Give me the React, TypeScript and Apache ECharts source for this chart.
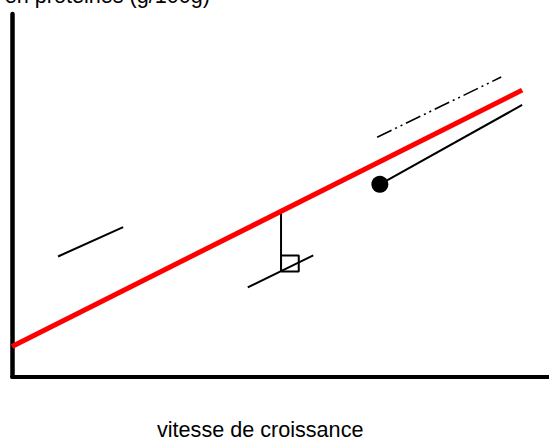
import React, { useEffect, useRef } from "react";
import * as echarts from "echarts";

// Abstract data units: x 0..100, y 0..100
const xRange = [0, 100];
const yRange = [0, 100];

const redLine = [
  [0, 8.3],
  [95.0, 79.0],
];
const leftShort = [
  [8.57, 33.1],
  [20.7, 41.2],
];
const perpendicular = [
  [50.1, 45.3],
  [50.1, 29.0],
];
const rightAngle = [
  [50.1, 29.0],
  [53.4, 29.0],
  [53.4, 33.4],
  [50.1, 33.4],
  [50.1, 29.0],
];
const lowShort = [
  [43.9, 24.6],
  [56.1, 33.4],
];
const dotLine = [
  [68.5, 53.0],
  [95.0, 74.9],
];
const dotPoint = [[68.5, 53.0]];
const dashDotLine = [
  [68.0, 66.0],
  [91.1, 82.6],
];

const yAxisTitle = "Teneur en protéines (g/100g)";
const xAxisTitle = "vitesse de croissance";

const FONT = "'Liberation Sans', Arial, sans-serif";

function lineSeries(data: number[][], color: string, width: number, type: any = "solid") {
  return {
    type: "line",
    data,
    showSymbol: false,
    symbol: "none",
    silent: true,
    lineStyle: { color, width, type, cap: "butt", opacity: 1 },
    z: 3,
  };
}

export default function App() {
  const ref = useRef<HTMLDivElement>(null);
  useEffect(() => {
    if (!ref.current) return;
    const chart = echarts.init(ref.current, undefined, { renderer: "svg" });
    chart.setOption({
      animation: false,
      backgroundColor: "#ffffff",
      grid: { left: 12, right: 0, top: 14, bottom: 63.5, containLabel: false },
      xAxis: {
        type: "value",
        min: xRange[0],
        max: xRange[1],
        axisLine: { show: true, onZero: false, lineStyle: { color: "#000", width: 4 } },
        axisTick: { show: false },
        axisLabel: { show: false },
        splitLine: { show: false },
      },
      yAxis: {
        type: "value",
        min: yRange[0],
        max: yRange[1],
        axisLine: { show: true, onZero: false, lineStyle: { color: "#000", width: 4.5 } },
        axisTick: { show: false },
        axisLabel: { show: false },
        splitLine: { show: false },
      },
      series: [
        lineSeries(leftShort, "#000", 2),
        lineSeries(perpendicular, "#000", 2),
        lineSeries(rightAngle, "#000", 2),
        lineSeries(lowShort, "#000", 2),
        lineSeries(dotLine, "#000", 2),
        lineSeries(dashDotLine, "#000", 1.6, [16, 4, 2, 4, 2, 4]),
        lineSeries(redLine, "#ff0000", 5),
        {
          type: "scatter",
          data: dotPoint,
          symbol: "circle",
          symbolSize: 17,
          itemStyle: { color: "#000000", opacity: 1 },
          silent: true,
          z: 4,
        },
      ],
      graphic: [
        {
          type: "text",
          right: 549 - 210,
          top: -16,
          style: {
            text: yAxisTitle,
            font: `21.6px ${FONT}`,
            fill: "#000",
          },
        },
        {
          type: "text",
          left: 157,
          top: 418,
          style: {
            text: xAxisTitle,
            font: `21.6px ${FONT}`,
            fill: "#000",
          },
        },
      ],
    });
    return () => chart.dispose();
  }, []);
  return (
    <div
      ref={ref}
      style={{ position: "fixed", left: 0, top: 0, width: 549, height: 440, background: "#fff" }}
    />
  );
}
